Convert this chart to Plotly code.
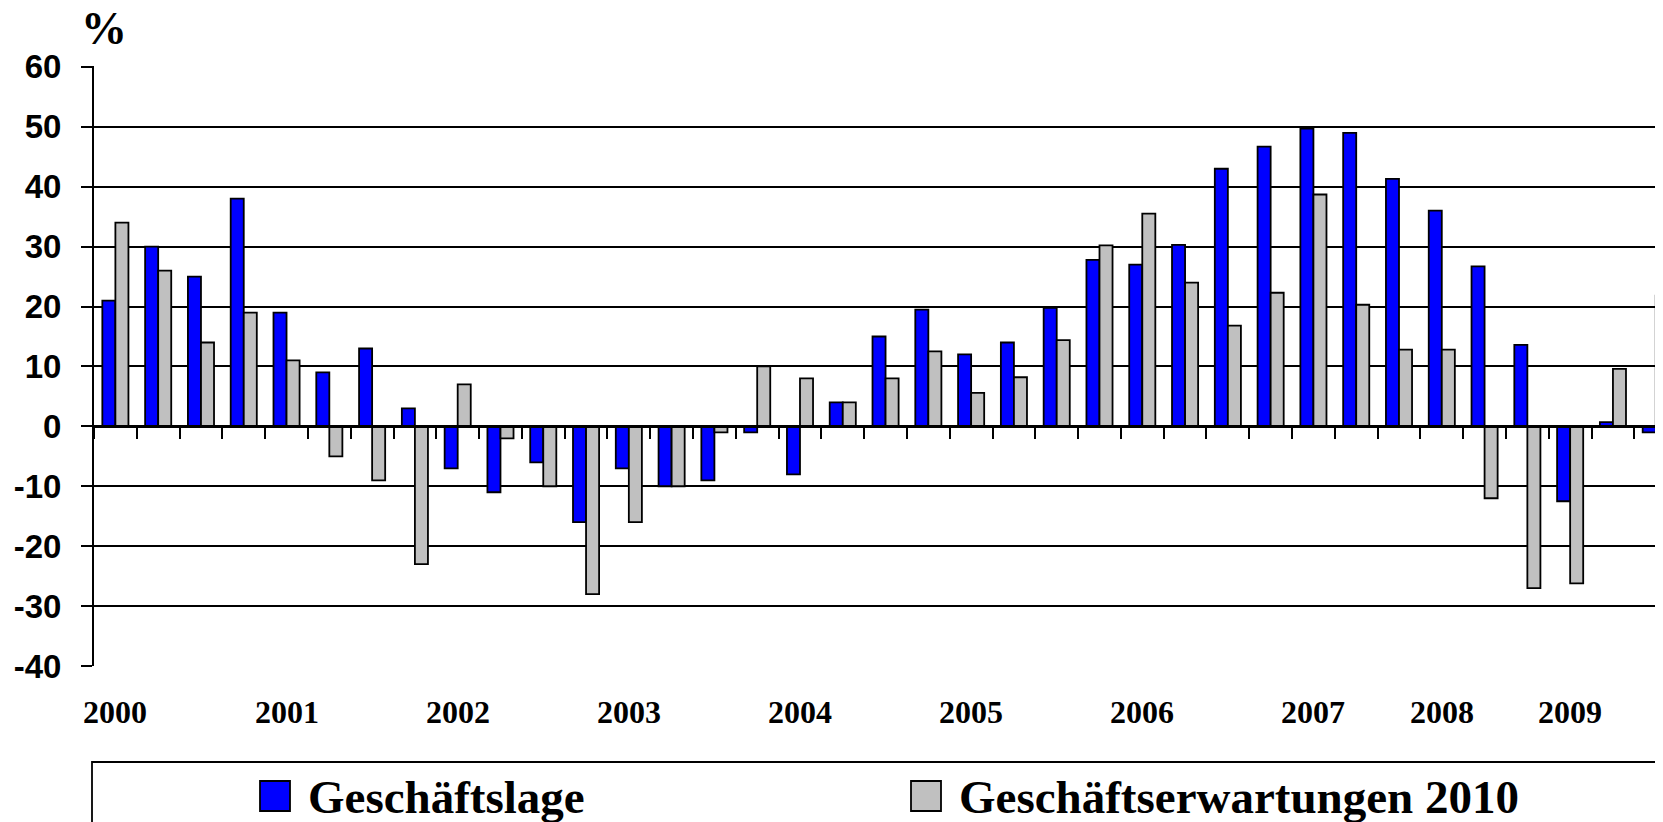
import plotly.graph_objects as go

# ---- data ----
periods = list(range(37))  # survey waves, 2000 .. 2009
geschaeftslage = [21, 30, 25, 38, 19, 9, 13, 3, -7, -11, -6, -16, -7, -10, -9, -1, -8, 4,
                  15, 19.5, 12, 14, 19.8, 27.8, 27, 30.3, 43, 46.7, 49.7, 49, 41.3, 36,
                  26.7, 13.6, -12.5, 0.7, -1]
erwartungen = [34, 26, 14, 19, 11, -5, -9, -23, 7, -2, -10, -28, -16, -10, -1, 10, 8, 4,
               8, 12.5, 5.6, 8.2, 14.4, 30.2, 35.5, 24, 16.8, 22.3, 38.7, 20.3, 12.8, 12.8,
               -12, -27, -26.2, 9.6, 21.8]
year_positions = [0, 4, 8, 12, 16, 20, 24, 28, 31, 34]
year_labels = ["2000", "2001", "2002", "2003", "2004", "2005", "2006", "2007", "2008", "2009"]
series_names = ["Geschäftslage", "Geschäftserwartungen 2010"]
series_colors = ["#0000FF", "#C0C0C0"]
y_ticks = [-40, -30, -20, -10, 0, 10, 20, 30, 40, 50, 60]
y_ticktext = [str(v) for v in y_ticks]

OFF = 8  # page body margin
W, H = 1663 - OFF, 822 - OFF
ML, MT, MB, MR = 94 - OFF, 66 - OFF, 156, 0
PW, PH = W - ML - MR, H - MT - MB

SERIF = "Times New Roman, Liberation Serif, serif"
SANS = "Arial, Liberation Sans, sans-serif"

fig = go.Figure()
for name, vals, col in zip(series_names, [geschaeftslage, erwartungen], series_colors):
    fig.add_trace(go.Bar(x=periods, y=vals, name=name, showlegend=False,
                         marker=dict(color=col, line=dict(color="black", width=1.8))))

fig.update_layout(
    width=W, height=H,
    margin=dict(l=ML, r=MR, t=MT, b=MB, pad=0),
    paper_bgcolor="white", plot_bgcolor="white",
    barmode="group", bargap=0.39, bargroupgap=0,
    xaxis=dict(type="linear", range=[-0.5, 36.17],
               tickvals=[i - 0.5 for i in range(38)], ticks="outside", ticklen=11,
               tickwidth=1.8, tickcolor="black", showticklabels=False,
               showline=True, linecolor="black", linewidth=2.5,
               anchor="free", position=0.4, showgrid=False, zeroline=False),
    yaxis=dict(range=[-40, 60.15], tickvals=y_ticks, ticktext=y_ticktext,
               ticks="outside", ticklen=11, tickwidth=2, tickcolor="black",
               tickfont=dict(family=SANS, size=33, color="black", weight="bold"),
               ticklabelstandoff=13,
               showgrid=True, gridcolor="black", gridwidth=2,
               showline=True, linecolor="black", linewidth=2,
               zeroline=False),
)


def px_x(px):
    return (px - OFF - ML) / PW


def px_y(py):
    return (MT + PH - (py - OFF)) / PH


# year labels
for pos, lab in zip(year_positions, year_labels):
    fig.add_annotation(x=pos, y=px_y(712), xref="x", yref="paper",
                       text=lab, showarrow=False, xanchor="center", yanchor="middle",
                       font=dict(family=SERIF, size=32, color="black", weight="bold"))

# "%" title
fig.add_annotation(x=px_x(104), y=px_y(29), xref="paper", yref="paper",
                   text="%", showarrow=False, xanchor="center", yanchor="middle",
                   font=dict(family=SERIF, size=46, color="black", weight="bold"))

# legend box (cropped at right / bottom like the reference)
fig.add_shape(type="rect", xref="paper", yref="paper",
              x0=px_x(92), x1=px_x(1700), y0=px_y(762), y1=px_y(900),
              line=dict(color="black", width=1.8), fillcolor="rgba(0,0,0,0)")
legend_marker_x = [260, 911]
legend_text_x = [306, 957]
for name, col, mx, tx in zip(series_names, series_colors, legend_marker_x, legend_text_x):
    fig.add_shape(type="rect", xref="paper", yref="paper",
                  x0=px_x(mx), x1=px_x(mx + 30), y0=px_y(781), y1=px_y(811),
                  line=dict(color="black", width=1.8), fillcolor=col)
    fig.add_annotation(x=px_x(tx), y=px_y(797), xref="paper", yref="paper",
                       text=name, showarrow=False, xanchor="left", yanchor="middle",
                       font=dict(family=SERIF, size=47, color="black", weight="bold"))

fig.write_html("out.html")
